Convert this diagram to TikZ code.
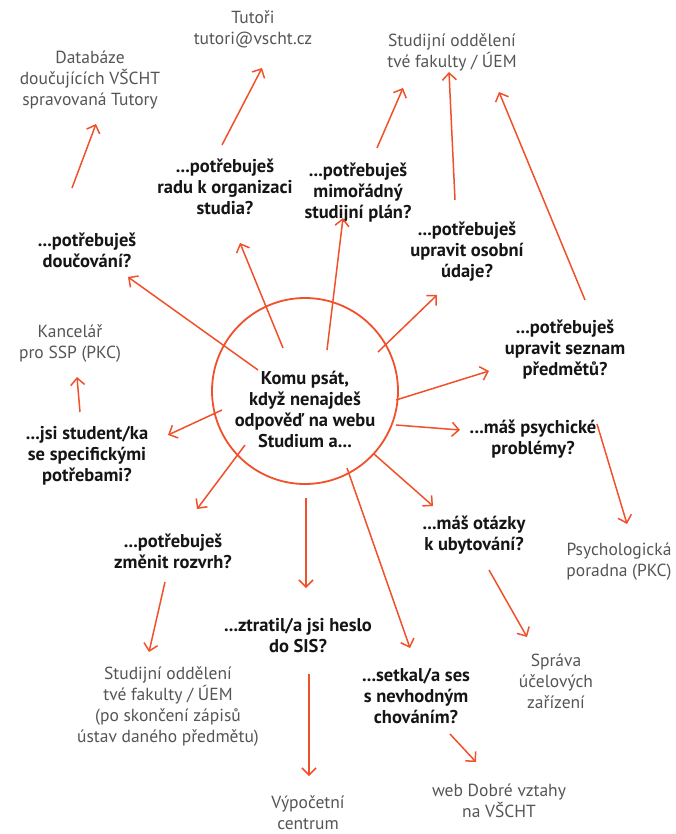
\documentclass[tikz,border=0pt]{standalone}
\usepackage{fontspec}
\setmainfont{PT Sans}
\usetikzlibrary{arrows.meta}
\definecolor{vor}{HTML}{F0502A}
\definecolor{vgray}{HTML}{555555}
\definecolor{vblack}{HTML}{151515}
\begin{document}
\begin{tikzpicture}[x=1pt,y=-1pt,
  q/.style={align=center,font=\fontsize{18.5}{21}\selectfont\bfseries,text=vblack,inner sep=0pt},
  dest/.style={align=center,font=\fontsize{17.5}{21}\selectfont,text=vgray,inner sep=0pt},
  arr/.style={draw=vor,line width=1.5pt,-{Straight Barb[length=7pt,width=14pt,line width=1.5pt]}}]
\useasboundingbox (0,0) rectangle (676,834);
\node[circle,draw=vor,line width=1.8pt,minimum size=186pt,inner sep=0pt] (c) at (305,391) {};
\node[q] (center) at (305,409) {Komu psát,\\když nenajdeš\\odpověď na webu\\Studium a...};
% questions
\node[q] (q1) at (87,250) {...potřebuješ\\doučování?};
\node[q] (q2) at (225,187) {...potřebuješ\\radu k organizaci\\studia?};
\node[q] (q3) at (358,193) {...potřebuješ\\mimořádný\\studijní plán?};
\node[q] (q4) at (467,252) {...potřebuješ\\upravit osobní\\údaje?};
\node[q] (q5) at (565,350) {...potřebuješ\\upravit seznam\\předmětů?};
\node[q] (q6) at (533,439) {...máš psychické\\problémy?};
\node[q] (q7) at (474,535) {...máš otázky\\k ubytování?};
\node[q] (q8) at (416,696) {...setkal/a ses\\s nevhodným\\chováním?};
\node[q] (q9) at (298,636) {...ztratil/a jsi heslo\\do SIS?};
\node[q] (q10) at (173,551) {...potřebuješ\\změnit rozvrh?};
\node[q] (q11) at (87,456) {...jsi student/ka\\se specifickými\\potřebami?};
% destinations
\node[dest] (d1) at (90,80) {Databáze\\doučujících VŠCHT\\spravovaná Tutory};
\node[dest] (d2) at (253,29) {Tutoři\\tutori@vscht.cz};
\node[dest] (d3) at (452,52) {Studijní oddělení\\tvé fakulty / ÚEM};
\node[dest] (d4) at (70,344) {Kancelář\\pro SSP (PKC)};
\node[dest] (d5) at (619,562) {Psychologická\\poradna (PKC)};
\node[dest] (d6) at (556,681) {Správa\\účelových\\zařízení};
\node[dest] (d7) at (499,801) {web Dobré vztahy\\na VŠCHT};
\node[dest] (d8) at (308,813) {Výpočetní\\centrum};
\node[dest] (d9) at (168,707) {Studijní oddělení\\tvé fakulty / ÚEM\\(po skončení zápisů\\ústav daného předmětu)};
% connector end points
\coordinate (s1) at (258,370); \coordinate (e1) at (128,277);
\coordinate (s2) at (283,348); \coordinate (e2) at (240,243);
\coordinate (s3) at (327,350); \coordinate (e3) at (343,218);
\coordinate (s4) at (378,352); \coordinate (e4) at (437,295);
\coordinate (s5) at (396,400); \coordinate (e5) at (489,371);
\coordinate (s6) at (396,425); \coordinate (e6) at (460,430);
\coordinate (s7) at (374,454); \coordinate (e7) at (433,506);
\coordinate (s8) at (347,468); \coordinate (e8) at (410,648);
\coordinate (s9) at (306,498); \coordinate (e9) at (306,588);
\coordinate (s10) at (245,445); \coordinate (e10) at (197,509);
\coordinate (s11) at (222,410); \coordinate (e11) at (168,435);
\coordinate (t1) at (72,188); \coordinate (u1) at (96,124);
\coordinate (t2) at (222,145); \coordinate (u2) at (262,68);
\coordinate (t3) at (377,148); \coordinate (u3) at (403,88);
\coordinate (t4) at (455,200); \coordinate (u4) at (449,72);
\coordinate (t5) at (585,300); \coordinate (u5) at (499,92);
\coordinate (t6) at (80,412); \coordinate (u6) at (77,377);
\coordinate (t7) at (597,424); \coordinate (u7) at (627,524);
\coordinate (t8) at (489,570); \coordinate (u8) at (527,637);
\coordinate (t9) at (165,582); \coordinate (u9) at (149,652);
\coordinate (t10) at (309,674); \coordinate (u10) at (309,776);
\coordinate (t11) at (450,734); \coordinate (u11) at (476,762);
\foreach \i in {1,...,11} {\draw[arr] (s\i) -- (e\i); \draw[arr] (t\i) -- (u\i);}
\end{tikzpicture}
\end{document}
